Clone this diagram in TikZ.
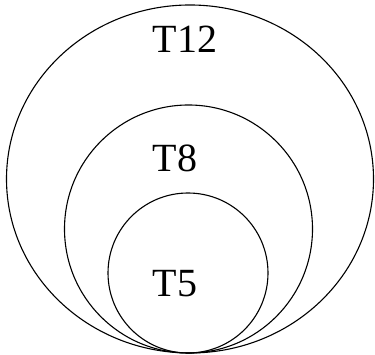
\documentclass[tikz,border=0pt]{standalone}
\usepackage{fontspec}
\setmainfont{Liberation Serif}
\usetikzlibrary{positioning}

\begin{document}
\begin{tikzpicture}[x=1pt, y=1pt, line width=1.1pt,
    every node/.style={font=\fontsize{40}{40}\selectfont, inner sep=0pt}]
  \useasboundingbox (0,0) rectangle (375,355);
  % nested sets, all touching at the bottom
  \draw (190,176) ellipse [x radius=183.5, y radius=174];
  \draw (188.5,126) circle [radius=124];
  \draw (188,82) circle [radius=80];

  % labels
  \node (t12) at (185,316) {T12};
  \node (t8)  at (175,197) {T8};
  \node (t5)  at (175,71)  {T5};
\end{tikzpicture}
\end{document}
